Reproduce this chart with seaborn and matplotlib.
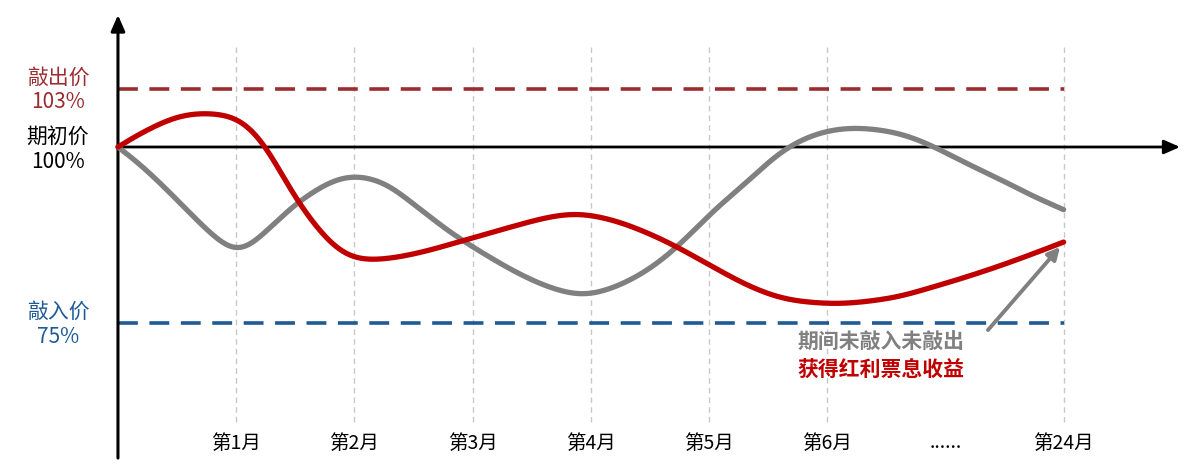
import numpy as np
import pandas as pd
import matplotlib
matplotlib.use("Agg")
import matplotlib.pyplot as plt
import seaborn as sns

sns.set_theme(style="white")
plt.rcParams['font.family'] = ['Noto Sans CJK SC', 'DejaVu Sans']

# ---------------- data ----------------
month_labels = ["第1月", "第2月", "第3月", "第4月", "第5月", "第6月", "......", "第24月"]
month_slots = [1, 2, 3, 4, 5, 6, 7, 8]
grid_slots = [1, 2, 3, 4, 5, 6, 8]

gray_x = [0, 0.21, 0.50, 0.78, 1.02, 1.29, 1.51, 1.90, 2.24, 2.53, 2.81, 3.09, 3.38, 3.66, 3.93,
          4.19, 4.48, 4.73, 5.03, 5.32, 5.60, 5.88, 6.20, 6.59, 6.87, 7.15, 7.44, 7.72, 8.0]
gray_y = [100, 97.2, 92.5, 87.8, 85.1, 88.6, 92.0, 95.7, 95.0, 91.5, 87.9, 84.9, 82.1, 80.0, 79.0,
          80.0, 82.5, 85.8, 90.8, 95.0, 99.2, 101.7, 102.7, 102.0, 100.3, 97.9, 95.6, 93.2, 91.1]

red_x = [0, 0.21, 0.50, 0.75, 1.01, 1.14, 1.26, 1.40, 1.51, 1.77, 1.96, 2.19, 2.53, 2.94, 3.38,
         3.66, 3.90, 4.19, 4.48, 4.73, 5.03, 5.32, 5.60, 5.88, 6.17, 6.59, 6.87, 7.15, 7.44, 7.72, 8.0]
red_y = [100, 102.1, 104.3, 104.8, 104.1, 102.4, 99.9, 95.7, 92.5, 86.8, 84.4, 84.0, 84.9, 86.8, 88.9,
         90.1, 90.5, 89.6, 87.8, 85.8, 83.0, 80.4, 78.6, 77.9, 77.8, 78.7, 80.0, 81.4, 83.0, 84.7, 86.5]

level_names = ["敲出价", "期初价", "敲入价"]
level_texts = ["103%", "100%", "75%"]
level_positions = [108.24, 100.0, 75.0]   # drawn height of each level line
level_colors = ["#9B2D30", "#000000", "#1F5A96"]

note_line1 = "期间未敲入未敲出"
note_line2 = "获得红利票息收益"


def smooth(xs, ys, n=30, sigma=0.1):
    """Hermite curve through the read points, lightly Gaussian-smoothed (Excel-like smoothed line)."""
    x = np.asarray(xs, float)
    y = np.asarray(ys, float)
    m = np.zeros_like(y)
    for i in range(1, len(x) - 1):
        m[i] = (y[i + 1] - y[i - 1]) / (x[i + 1] - x[i - 1])
    m[0] = (3 * (y[1] - y[0]) / (x[1] - x[0]) - m[1]) / 2
    m[-1] = (3 * (y[-1] - y[-2]) / (x[-1] - x[-2]) - m[-2]) / 2
    ox, oy = [], []
    for i in range(len(x) - 1):
        h = x[i + 1] - x[i]
        t = np.linspace(0, 1, n, endpoint=False)
        h00 = 2 * t ** 3 - 3 * t ** 2 + 1
        h10 = t ** 3 - 2 * t ** 2 + t
        h01 = -2 * t ** 3 + 3 * t ** 2
        h11 = t ** 3 - t ** 2
        ox.append(x[i] + t * h)
        oy.append(h00 * y[i] + h10 * h * m[i] + h01 * y[i + 1] + h11 * h * m[i + 1])
    ox.append([x[-1]])
    oy.append([y[-1]])
    hx, hy = np.concatenate(ox), np.concatenate(oy)
    step = 0.005
    xg = np.arange(x[0], x[-1] + step / 2, step)
    yg = np.interp(xg, hx, hy)
    k = int(4 * sigma / step)
    left = 2 * yg[0] - yg[1:k + 1][::-1]
    right = 2 * yg[-1] - yg[-k - 1:-1][::-1]
    padded = np.concatenate([left, yg, right])
    kx = np.arange(-k, k + 1) * step
    kern = np.exp(-0.5 * (kx / sigma) ** 2)
    kern /= kern.sum()
    ys_s = np.convolve(padded, kern, mode="valid")
    return xg, ys_s


fig = plt.figure(figsize=(11.94, 4.71), dpi=100)
ax = fig.add_axes([0, 0, 1, 1])

# vertical dashed grid
ax.vlines(grid_slots, 60.94, 114.2, colors="#C8C8C8", linestyles=(0, (4, 3)), lw=1.0, zorder=1)

# knock-out / knock-in dashed levels
ax.hlines(level_positions[0], 0, 8, colors=level_colors[0], linestyles=(0, (5.5, 3.2)), lw=2.6, zorder=2)
ax.hlines(level_positions[2], 0, 8, colors=level_colors[2], linestyles=(0, (5.5, 3.2)), lw=2.6, zorder=2)

# axes with arrows
ax.annotate("", xy=(0, 118.75), xytext=(0, 55.82),
            arrowprops=dict(arrowstyle="-|>,head_length=0.8,head_width=0.35", color="black", lw=2.2,
                            shrinkA=0, shrinkB=0), zorder=3)
ax.annotate("", xy=(8.985, 100), xytext=(0, 100),
            arrowprops=dict(arrowstyle="-|>,head_length=0.8,head_width=0.35", color="black", lw=2.0,
                            shrinkA=0, shrinkB=0), zorder=3)

# curves
gx, gy = smooth(gray_x, gray_y)
rx, ry = smooth(red_x, red_y)
df_g = pd.DataFrame({"x": gx, "y": gy})
df_r = pd.DataFrame({"x": rx, "y": ry})
sns.lineplot(data=df_g, x="x", y="y", sort=False, color="#808080", lw=3.8, ax=ax, zorder=4)
sns.lineplot(data=df_r, x="x", y="y", sort=False, color="#C00000", lw=3.8, ax=ax, zorder=5)
ax.set_xlim(-0.998, 9.103)
ax.set_ylim(53.98, 120.88)
ax.axis("off")

# month labels
trans = matplotlib.transforms.blended_transform_factory(ax.transData, ax.transAxes)
for s, lab in zip(month_slots, month_labels):
    ax.text(s, 1 - 443 / 471, lab, transform=trans, ha="center", va="center", fontsize=14,
            color="black")

# level labels on the left
label_px = [(78, 102), (137, 162), (312, 337)]
for (y1, y2), name, txt, c in zip(label_px, level_names, level_texts, level_colors):
    fig.text(58 / 1194, 1 - y1 / 471, name, ha="center", va="center", fontsize=15, color=c)
    fig.text(58 / 1194, 1 - y2 / 471, txt, ha="center", va="center", fontsize=15, color=c)

# annotation
fig.text(881 / 1194, 1 - 342 / 471, note_line1, ha="center", va="center", fontsize=15,
         fontweight="bold", color="#808080")
fig.text(881 / 1194, 1 - 369 / 471, note_line2, ha="center", va="center", fontsize=15,
         fontweight="bold", color="#C00000")
ax.annotate("", xy=(7.97, 85.8), xytext=(7.36, 74.0),
            arrowprops=dict(arrowstyle="-|>,head_length=0.6,head_width=0.3", color="#808080", lw=2.8,
                            shrinkA=0, shrinkB=0), zorder=6)

fig.savefig("out.png", dpi=100)
